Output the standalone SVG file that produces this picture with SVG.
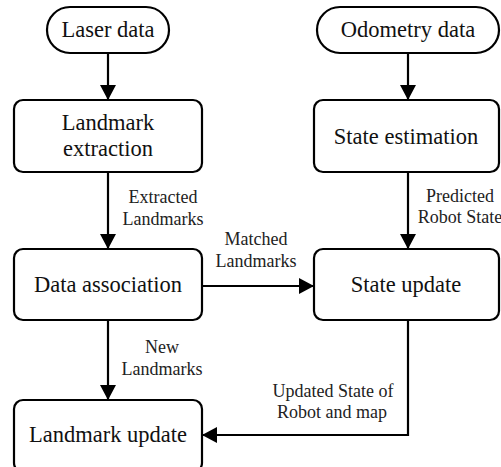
<svg xmlns="http://www.w3.org/2000/svg" width="501" height="467" viewBox="0 0 501 467">
  <defs>
    <marker id="arrow" markerWidth="16" markerHeight="16" viewBox="0 0 16 16" refX="15" refY="8" orient="auto" markerUnits="userSpaceOnUse">
      <path d="M0,0 L15,8 L0,16 Z" fill="#000"/>
    </marker>
  </defs>
  <style>
    .box { fill: #fff; stroke: #000; stroke-width: 2.2; }
    text { font-family: "Liberation Serif", "Times New Roman", serif; text-anchor: middle; }
    .main { font-size: 22.5px; fill: #111; }
    .lbl { font-size: 18px; fill: #222; }
    .edge { fill: none; stroke: #000; stroke-width: 2.2; marker-end: url(#arrow); }
  </style>
  <rect width="501" height="467" fill="#fff"/>

  <g id="connectors">
    <line class="edge" x1="108" y1="53" x2="108" y2="100"/>
    <line class="edge" x1="108" y1="172" x2="108" y2="249"/>
    <line class="edge" x1="108" y1="320" x2="108" y2="400"/>
    <line class="edge" x1="408" y1="53" x2="408" y2="100"/>
    <line class="edge" x1="408" y1="172" x2="408" y2="249"/>
    <line class="edge" x1="202" y1="286" x2="314" y2="286"/>
    <polyline class="edge" points="408,320 408,435 202,435"/>
    <text class="lbl" x="163" y="203">Extracted</text>
    <text class="lbl" x="163" y="225">Landmarks</text>
    <text class="lbl" x="256" y="245">Matched</text>
    <text class="lbl" x="256" y="267">Landmarks</text>
    <text class="lbl" x="460" y="202">Predicted</text>
    <text class="lbl" x="460" y="223">Robot State</text>
    <text class="lbl" x="162" y="353">New</text>
    <text class="lbl" x="162" y="375">Landmarks</text>
    <text class="lbl" x="333" y="397">Updated State of</text>
    <text class="lbl" x="332" y="418">Robot and map</text>
  </g>

  <g id="laser-data">
    <rect class="box" x="47" y="7" width="122" height="46" rx="23"/>
    <text class="main" x="108" y="37">Laser data</text>
  </g>
  <g id="odometry-data">
    <rect class="box" x="317" y="7" width="182" height="46" rx="23"/>
    <text class="main" x="408" y="37">Odometry data</text>
  </g>
  <g id="landmark-extraction">
    <rect class="box" x="14" y="100" width="188" height="72" rx="9"/>
    <text class="main" x="108" y="130">Landmark</text>
    <text class="main" x="108" y="156">extraction</text>
  </g>
  <g id="state-estimation">
    <rect class="box" x="314" y="100" width="185" height="72" rx="9"/>
    <text class="main" x="406" y="144">State estimation</text>
  </g>
  <g id="data-association">
    <rect class="box" x="14" y="249" width="188" height="71" rx="9"/>
    <text class="main" x="108" y="292">Data association</text>
  </g>
  <g id="state-update">
    <rect class="box" x="314" y="249" width="185" height="71" rx="9"/>
    <text class="main" x="406" y="292">State update</text>
  </g>
  <g id="landmark-update">
    <rect class="box" x="14" y="400" width="188" height="72" rx="9"/>
    <text class="main" x="108" y="442">Landmark update</text>
  </g>
</svg>
